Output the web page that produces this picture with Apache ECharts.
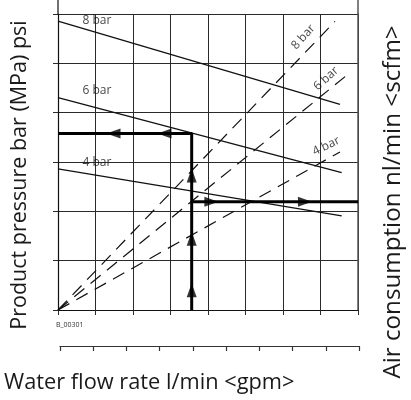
<!DOCTYPE html>
<html>
<head>
<meta charset="utf-8">
<script src="https://cdn.jsdelivr.net/npm/echarts@6/dist/echarts.min.js"></script>
<style>html,body{margin:0;padding:0;background:#fff}#c{width:411px;height:400px}</style>
</head>
<body>
<div id="c"></div>
<script>
// ---- data (chart units: x = flow grid units 0..8, y = pressure grid units 0..6) ----
const pressureLabels = ['8 bar', '6 bar', '4 bar'];
const solidStart = [[0, 5.856], [0, 4.306], [0, 2.860]];
const solidEnd   = [[7.52, 4.17], [7.565, 2.787], [7.565, 1.909]];
const dashedEnd  = [[7.387, 5.850], [7.699, 4.757], [7.52, 3.204]];
const solidLabelPos  = [[1.04, 5.87], [1.04, 4.44], [1.04, 2.99]];
const dashedLabelPos = [[6.54, 5.533], [7.15, 4.69], [7.15, 3.32]];
const dashedLabelAngle = [48, 42, 26];
const pathUp   = [[0, 3.577], [3.565, 3.577], [3.565, 0]];
const pathRight = [[3.565, 2.192], [8, 2.192]];
const arrowUpY = [0.40, 1.445, 2.728];
const arrowLeftX = [1.48, 2.84];
const arrowRightX = [4.09, 6.585];
const flowTicks = [0, 1, 2, 3, 4, 5, 6, 7, 8];
const scaleTicks = [0, 1, 2, 3, 4, 5, 6, 7, 8, 9];

// ---- layout ----
const L = 58, R = 358, T = 14, B = 310;
const chart = echarts.init(document.getElementById('c'), null, {renderer: 'canvas'});
const black = '#111', grid = '#2a2a2a';
const series = [];
pressureLabels.forEach((n, i) => {
  series.push({type: 'line', xAxisIndex: 0, yAxisIndex: 0, data: [solidStart[i], solidEnd[i]],
    symbol: 'none', lineStyle: {color: black, width: 1.3}, silent: true, z: 3});
  series.push({type: 'line', xAxisIndex: 0, yAxisIndex: 0, data: [[0, 0], dashedEnd[i]],
    symbol: 'none', lineStyle: {color: black, width: 1.2, type: [13, 8]}, silent: true, z: 3});
});
series.push({type: 'line', xAxisIndex: 0, yAxisIndex: 0, data: pathUp, symbol: 'none',
  lineStyle: {color: '#000', width: 3}, z: 4});
series.push({type: 'line', xAxisIndex: 0, yAxisIndex: 0, data: pathRight, symbol: 'none',
  lineStyle: {color: '#000', width: 3}, z: 4});
const arrowItems = [];
arrowUpY.forEach(y => arrowItems.push({value: [pathUp[1][0], y], symbolRotate: 0}));
arrowLeftX.forEach(x => arrowItems.push({value: [x, pathUp[0][1]], symbolRotate: 90}));
arrowRightX.forEach(x => arrowItems.push({value: [x, pathRight[0][1]], symbolRotate: -90}));
series.push({type: 'scatter', xAxisIndex: 0, yAxisIndex: 0, data: arrowItems, symbol: 'triangle',
  symbolSize: [10, 14], itemStyle: {color: '#000'}, z: 5});
const labelItems = [];
pressureLabels.forEach((n, i) => {
  labelItems.push({name: n, value: solidLabelPos[i], label: {rotate: 0}});
  labelItems.push({name: n, value: dashedLabelPos[i], label: {rotate: dashedLabelAngle[i]}});
});
series.push({type: 'scatter', xAxisIndex: 0, yAxisIndex: 0, data: labelItems, symbolSize: 1,
  itemStyle: {color: 'rgba(0,0,0,0)'}, z: 6,
  label: {show: true, position: 'inside', formatter: p => p.name, color: '#111',
    fontFamily: 'Open Sans', fontSize: 12}});
series.push({type: 'line', xAxisIndex: 1, yAxisIndex: 2, data: [], symbol: 'none'});

const titleStyle = {fill: '#1a1a1a', fontFamily: 'Open Sans', textAlign: 'center', textVerticalAlign: 'middle'};
chart.setOption({
  animation: false,
  grid: [
    {left: L, top: T, width: R - L, height: B - T},
    {left: 60, top: 340, width: 299, height: 6}
  ],
  xAxis: [
    {gridIndex: 0, type: 'value', min: 0, max: flowTicks[flowTicks.length - 1], interval: 1,
      axisLine: {show: true, lineStyle: {color: black, width: 1.2}},
      axisTick: {show: true, length: 5, lineStyle: {color: grid}},
      axisLabel: {show: false}, splitLine: {show: true, lineStyle: {color: grid, width: 1}}},
    {gridIndex: 1, type: 'value', min: 0, max: scaleTicks[scaleTicks.length - 1], interval: 1,
      axisLine: {show: true, lineStyle: {color: '#333', width: 1.2}},
      axisTick: {show: true, length: 5, lineStyle: {color: '#333', width: 1.2}},
      axisLabel: {show: false}, splitLine: {show: false}}
  ],
  yAxis: [
    {gridIndex: 0, type: 'value', min: 0, max: 6, interval: 1,
      axisLine: {show: true, lineStyle: {color: black, width: 1.2}},
      axisTick: {show: true, length: 5, lineStyle: {color: grid}},
      axisLabel: {show: false}, splitLine: {show: true, lineStyle: {color: grid, width: 1}}},
    {gridIndex: 0, type: 'value', min: 0, max: 6, interval: 1, position: 'right',
      axisLine: {show: true, lineStyle: {color: '#555', width: 1.5}},
      axisTick: {show: false}, axisLabel: {show: false}, splitLine: {show: false}},
    {gridIndex: 1, type: 'value', show: false, min: 0, max: 1}
  ],
  graphic: [
    {type: 'line', shape: {x1: L, y1: 0, x2: L, y2: T}, style: {stroke: black, lineWidth: 1.2}},
    {type: 'line', shape: {x1: R, y1: 0, x2: R, y2: T}, style: {stroke: '#555', lineWidth: 1.5}},
    {type: 'text', left: 56, top: 321, style: {text: 'B_00301', fontSize: 7, fill: '#333', fontFamily: 'Open Sans'}},
    {type: 'text', x: 4, y: 383, style: Object.assign({}, titleStyle, {text: 'Water flow rate l/min <gpm>',
      fontSize: 21.8, textAlign: 'left'})},
    {type: 'text', x: 20, y: 175, rotation: Math.PI / 2, style: Object.assign({}, titleStyle, {
      text: 'Product pressure bar (MPa) psi', fontSize: 21.5})},
    {type: 'text', x: 393, y: 202, rotation: Math.PI / 2, style: Object.assign({}, titleStyle, {
      text: 'Air consumption nl/min <scfm>', fontSize: 24.2})}
  ],
  series: series
});
</script>
</body>
</html>
